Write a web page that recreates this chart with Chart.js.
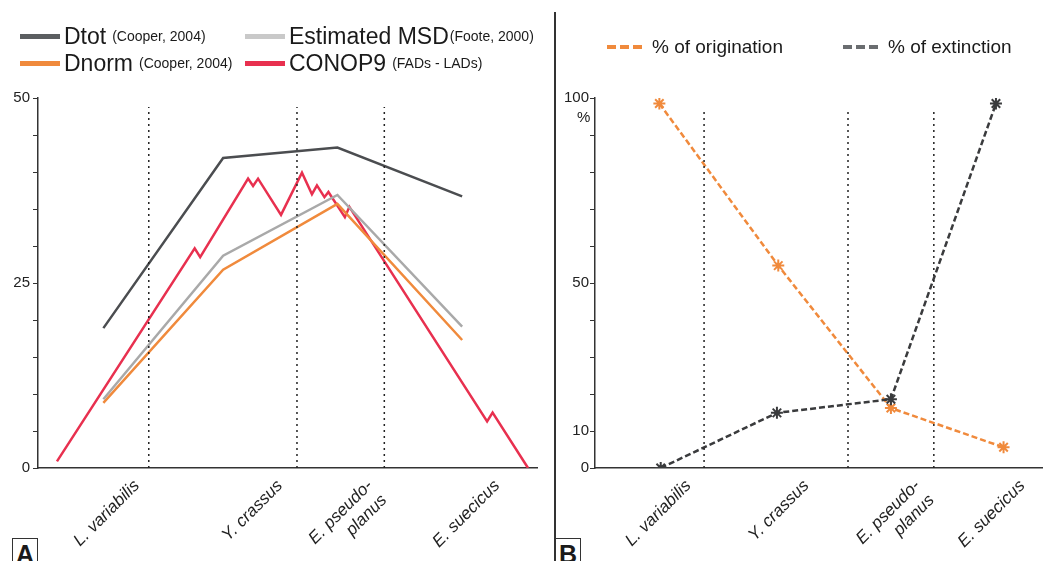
<!DOCTYPE html>
<html>
<head>
<meta charset="utf-8">
<script src="https://cdn.jsdelivr.net/npm/chart.js@4"></script>
<style>
  body {
    margin: 0;
    width: 1050px;
    height: 561px;
    overflow: hidden;
    background: #fff;
    position: relative;
    font-family: "Liberation Sans", Arial, sans-serif;
    color: #1a1a1a;
  }
  canvas { position: absolute; top: 0; }
  #chartA { left: 0; }
  #chartB { left: 555px; }
  .item {
    position: absolute;
    display: flex;
    align-items: center;
    height: 26px;
    white-space: nowrap;
  }
  .swatch { width: 40px; height: 5px; margin-right: 4px; }
  .big { font-size: 23px; }
  .small { font-size: 14px; margin-left: 6px; }
  .dash { width: 36px; height: 4px; margin-right: 9px; }
  .divider {
    position: absolute;
    left: 554px;
    top: 12px;
    width: 1.5px;
    height: 549px;
    background: #333;
  }
  .tag {
    position: absolute;
    top: 538px;
    width: 24px;
    height: 30px;
    border: 1.5px solid #333;
    font-size: 25px;
    font-weight: bold;
    text-align: center;
    line-height: 30px;
    background: #fff;
  }
  #pct { position: absolute; left: 577px; top: 108px; font-size: 15px; }
</style>
</head>
<body>
<canvas id="chartA" width="555" height="561"></canvas>
<canvas id="chartB" width="495" height="561"></canvas>

<div class="item" style="left:20px; top:23px">
  <span class="swatch" style="background:#5b5e61"></span><span class="big">Dtot</span><span class="small">(Cooper, 2004)</span>
</div>
<div class="item" style="left:245px; top:23px">
  <span class="swatch" style="background:#c9c9c9"></span><span class="big">Estimated MSD</span><span class="small" style="margin-left:1px">(Foote, 2000)</span>
</div>
<div class="item" style="left:20px; top:50px">
  <span class="swatch" style="background:#f08a3c"></span><span class="big">Dnorm</span><span class="small">(Cooper, 2004)</span>
</div>
<div class="item" style="left:245px; top:50px">
  <span class="swatch" style="background:#e8304f"></span><span class="big">CONOP9</span><span class="small">(FADs - LADs)</span>
</div>

<div class="item" style="left:607px; top:34px">
  <span class="dash" style="background:repeating-linear-gradient(90deg,#f08a3c 0 9px,transparent 9px 13px)"></span><span style="font-size:19px">% of origination</span>
</div>
<div class="item" style="left:843px; top:34px">
  <span class="dash" style="background:repeating-linear-gradient(90deg,#6a6d70 0 9px,transparent 9px 13px)"></span><span style="font-size:19px">% of extinction</span>
</div>

<div class="divider"></div>
<div id="pct">%</div>
<div class="tag" style="left:12px">A</div>
<div class="tag" style="left:555px">B</div>

<script>
var categories = ["L. variabilis", "Y. crassus", ["E. pseudo-", "planus"], "E. suecicus"];

// panel A
var labelPosA = [19.8, 48.5, 66.5, 92];
var boundsA = [22.2, 51.9, 69.4];
var sampleX = [13.1, 37.1, 60.0, 85.0];
var dtot = [18.9, 41.9, 43.3, 36.7];
var msd = [9.3, 28.7, 36.9, 19.1];
var dnorm = [8.8, 26.8, 35.7, 17.3];
var conopX = [3.8, 31.4, 32.5, 42.1, 43.1, 44.1, 48.7, 52.9, 54.9, 55.9, 57.4, 58.2, 61.5, 62.4, 90.0, 91.1, 98.2];
var conopY = [0.9, 29.7, 28.5, 39.1, 38.1, 39.1, 34.2, 39.9, 37.0, 38.2, 36.6, 37.3, 33.9, 35.3, 6.3, 7.5, 0];

// panel B
var labelPosB = [20.9, 47.3, 72.1, 95.6];
var boundsB = [24.4, 56.6, 75.8];
var origX = [14.4, 41.0, 66.2, 91.4];
var origination = [98.5, 54.7, 16.2, 5.6];
var extX = [14.7, 40.7, 66.2, 89.7];
var extinction = [0, 14.9, 18.6, 98.5];

function toPoints(xs, ys) {
  return xs.map(function (x, i) {
    return { x: x, y: ys[i] };
  });
}

function boundaryLines(bounds, top) {
  return bounds.map(function (b) {
    return {
      data: [{ x: b, y: 0 }, { x: b, y: top }],
      borderColor: "#222",
      borderWidth: 1.5,
      borderDash: [2, 4],
      pointRadius: 0,
    };
  });
}

function lineSet(xs, ys, color, width) {
  return {
    data: toPoints(xs, ys),
    borderColor: color,
    borderWidth: width,
    pointRadius: 0,
    tension: 0,
  };
}

function starSet(xs, ys, color) {
  return {
    data: toPoints(xs, ys),
    borderColor: color,
    borderWidth: 2.5,
    borderDash: [6, 3],
    pointStyle: "star",
    pointRadius: 6,
    pointBorderColor: color,
    pointBorderWidth: 2,
    tension: 0,
  };
}

function buildOptions(labelPos, yMax, yStep, yLabels, yWidth, padRight, yPad) {
  return {
    responsive: false,
    animation: false,
    layout: { padding: { top: 98, right: padRight, bottom: 0, left: 0 } },
    plugins: { legend: { display: false }, tooltip: { enabled: false } },
    scales: {
      x: {
        type: "linear",
        min: 0,
        max: 100,
        afterBuildTicks: function (axis) {
          axis.ticks = labelPos.map(function (v) {
            return { value: v };
          });
        },
        afterFit: function (axis) {
          axis.height = 93;
        },
        grid: { display: false, drawTicks: false },
        border: { display: true, color: "#333", width: 1.5 },
        ticks: {
          autoSkip: false,
          minRotation: 45,
          maxRotation: 45,
          padding: 8,
          color: "#222",
          font: { family: "Liberation Sans", size: 17, style: "italic" },
          callback: function (value, index) {
            return categories[index];
          },
        },
      },
      y: {
        min: 0,
        max: yMax,
        afterFit: function (axis) {
          axis.width = yWidth;
        },
        grid: {
          drawOnChartArea: false,
          drawTicks: true,
          tickLength: 5,
          color: "#333",
        },
        border: { display: true, color: "#333", width: 1.5 },
        ticks: {
          stepSize: yStep,
          padding: yPad,
          color: "#222",
          font: { family: "Liberation Sans", size: 15 },
          callback: function (value) {
            return yLabels.indexOf(value) >= 0 ? value : "";
          },
        },
      },
    },
  };
}

document.addEventListener("DOMContentLoaded", function () {
  var ctxA = document.getElementById("chartA").getContext("2d");
  new Chart(ctxA, {
    type: "line",
    data: {
      datasets: boundaryLines(boundsA, 48.8).concat([
        lineSet(sampleX, msd, "#a9a9a9", 2.5),
        lineSet(sampleX, dnorm, "#f08a3c", 2.5),
        lineSet(sampleX, dtot, "#4b4d50", 2.5),
        lineSet(conopX, conopY, "#e8304f", 2.5),
      ]),
    },
    options: buildOptions(labelPosA, 50, 5, [0, 25, 50], 38, 18, 3),
  });

  var ctxB = document.getElementById("chartB").getContext("2d");
  new Chart(ctxB, {
    type: "line",
    data: {
      datasets: boundaryLines(boundsB, 96.9).concat([
        starSet(extX, extinction, "#3a3b3d"),
        starSet(origX, origination, "#f08a3c"),
      ]),
    },
    options: buildOptions(labelPosB, 100, 10, [0, 10, 50, 100], 40, 0, 1),
  });
});
</script>
</body>
</html>
